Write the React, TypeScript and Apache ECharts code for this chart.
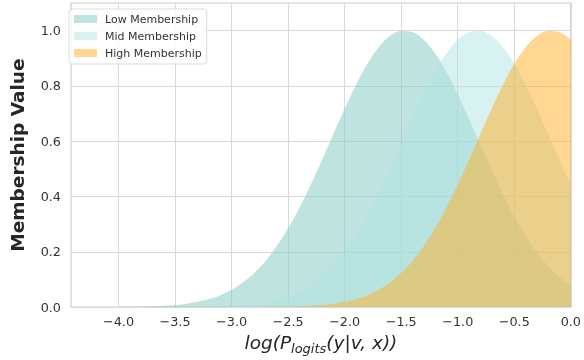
import React, { useEffect, useRef } from "react";
import * as echarts from "echarts";

const xValues = [
  -4.4, -4.3, -4.2, -4.1, -4.0, -3.9, -3.8, -3.7, -3.6, -3.5,
  -3.4, -3.3, -3.2, -3.1, -3.0, -2.9, -2.8, -2.7, -2.6, -2.5,
  -2.4, -2.3, -2.2, -2.1, -2.0, -1.9, -1.8, -1.7, -1.6, -1.5,
  -1.4, -1.3, -1.2, -1.1, -1.0, -0.9, -0.8, -0.7, -0.6, -0.5,
  -0.4, -0.3, -0.2, -0.1, 0.0,
];

const lowMembership = [
  0.0, 0.0001, 0.0001, 0.0003, 0.0005, 0.0009, 0.0016, 0.0028, 0.0047, 0.0076,
  0.0122, 0.019, 0.0289, 0.0431, 0.0627, 0.0889, 0.1233, 0.1669, 0.2206, 0.2849,
  0.3593, 0.4425, 0.5322, 0.6252, 0.7172, 0.8034, 0.879, 0.9393, 0.9802, 0.9989,
  0.9942, 0.9664, 0.9173, 0.8504, 0.77, 0.6808, 0.5879, 0.4958, 0.4083, 0.3284,
  0.258, 0.1979, 0.1483, 0.1085, 0.0775,
];

const midMembership = [
  0.0, 0.0, 0.0, 0.0, 0.0, 0.0, 0.0, 0.0001, 0.0001, 0.0002,
  0.0004, 0.0007, 0.0013, 0.0022, 0.0038, 0.0063, 0.0101, 0.016, 0.0245, 0.0368,
  0.0541, 0.0775, 0.1085, 0.1483, 0.1979, 0.258, 0.3284, 0.4083, 0.4958, 0.5879,
  0.6808, 0.77, 0.8504, 0.9173, 0.9664, 0.9942, 0.9989, 0.9802, 0.9393, 0.879,
  0.8034, 0.7172, 0.6252, 0.5322, 0.4425,
];

const highMembership = [
  0.0, 0.0, 0.0, 0.0, 0.0, 0.0, 0.0, 0.0, 0.0, 0.0,
  0.0, 0.0, 0.0, 0.0, 0.0001, 0.0001, 0.0003, 0.0005, 0.0009, 0.0016,
  0.0028, 0.0047, 0.0076, 0.0122, 0.019, 0.0289, 0.0431, 0.0627, 0.0889, 0.1233,
  0.1669, 0.2206, 0.2849, 0.3593, 0.4425, 0.5322, 0.6252, 0.7172, 0.8034, 0.879,
  0.9393, 0.9802, 0.9989, 0.9942, 0.9664,
];

const xTicks = [-4.0, -3.5, -3.0, -2.5, -2.0, -1.5, -1.0, -0.5, 0.0];
const yTicks = [0.0, 0.2, 0.4, 0.6, 0.8, 1.0];
const seriesNames = ["Low Membership", "Mid Membership", "High Membership"];
const fillColors = [
  "rgba(127,199,191,0.5)",
  "rgba(175,230,228,0.5)",
  "rgba(255,176,40,0.5)",
];

export default function App() {
  const ref = useRef<HTMLDivElement>(null);
  useEffect(() => {
    if (!ref.current) return;
    const chart = echarts.init(ref.current, null, { renderer: "svg" });
    const fmt = (v: number) =>
      Math.abs(v) < 1e-9 ? "0.0" : v.toFixed(1).replace("-", "\u2212");
    const allData = [lowMembership, midMembership, highMembership];
    chart.setOption({
      animation: false,
      textStyle: { fontFamily: "DejaVu Sans" },
      grid: {
        left: 64,
        right: 11,
        top: 3,
        bottom: 52,
        show: true,
        borderColor: "#cccccc",
        borderWidth: 1.2,
        backgroundColor: "transparent",
      },
      legend: {
        orient: "vertical",
        left: 69,
        top: 9,
        padding: [3, 5, 4, 5],
        itemWidth: 23,
        itemHeight: 8,
        itemGap: 3,
        backgroundColor: "rgba(255,255,255,0.85)",
        borderColor: "#dddddd",
        borderWidth: 1,
        borderRadius: 3,
        textStyle: {
          fontSize: 11,
          color: "#333333",
          lineHeight: 14,
          padding: [0, 0, 0, 3],
        },
        data: seriesNames.map((n, i) => ({
          name: n,
          icon: "rect",
          itemStyle: { color: fillColors[i], borderWidth: 0 },
        })),
      },
      xAxis: {
        type: "value",
        min: -4.42,
        max: 0,
        axisLine: { show: false },
        axisTick: { show: false, customValues: xTicks },
        axisLabel: {
          customValues: xTicks,
          formatter: fmt,
          fontSize: 12.8,
          color: "#333333",
          margin: 8,
        },
        splitLine: { show: true, lineStyle: { color: "#d9d9d9", width: 1 } },
        name: "{i|log(P}{s|logits}{i|(y|v, x))}",
        nameLocation: "middle",
        nameGap: 23,
        nameTextStyle: {
          rich: {
            i: {
              fontSize: 18.5,
              fontStyle: "italic",
              color: "#262626",
              lineHeight: 22,
              verticalAlign: "top",
              fontFamily: "DejaVu Sans",
            },
            s: {
              fontSize: 13,
              fontStyle: "italic",
              color: "#262626",
              lineHeight: 13,
              padding: [9, 0, 0, 0],
              verticalAlign: "top",
              fontFamily: "DejaVu Sans",
            },
          },
        },
      },
      yAxis: {
        type: "value",
        min: 0,
        max: 1.1,
        axisLine: { show: false },
        axisTick: { show: false, customValues: yTicks },
        axisLabel: {
          customValues: yTicks,
          formatter: (v: number) => v.toFixed(1),
          fontSize: 12.8,
          color: "#333333",
          margin: 10,
        },
        splitLine: { show: true, lineStyle: { color: "#d9d9d9", width: 1 } },
        name: "Membership Value",
        nameLocation: "middle",
        nameGap: 44,
        nameTextStyle: {
          fontSize: 18.5,
          fontWeight: "bold",
          color: "#262626",
        },
      },
      series: seriesNames.map((n, i) => ({
        name: n,
        type: "line",
        data: xValues.map((x, j) => [x, allData[i][j]]),
        showSymbol: false,
        smooth: 0.4,
        lineStyle: { width: 0, color: fillColors[i] },
        itemStyle: { color: fillColors[i] },
        areaStyle: { color: fillColors[i], opacity: 1 },
        z: 2 + i,
      })),
    });
    return () => chart.dispose();
  }, []);
  return (
    <div
      ref={ref}
      style={{ position: "fixed", left: 0, top: 0, width: 584, height: 360 }}
    />
  );
}
